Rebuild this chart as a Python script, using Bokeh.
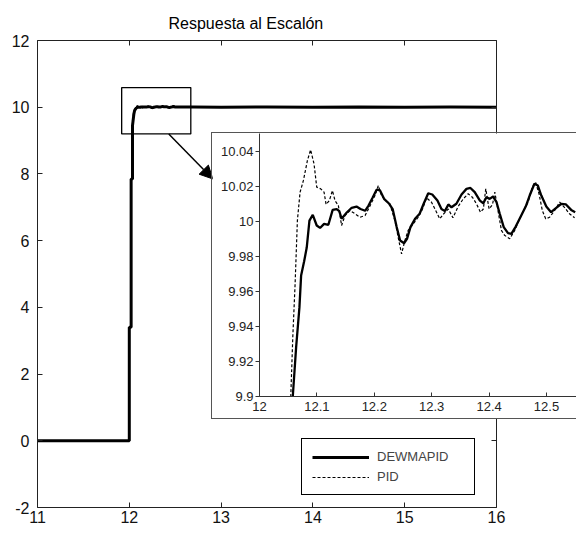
from bokeh.plotting import figure
from bokeh.models import (Range1d, LinearAxis, FixedTicker, Legend, LegendItem,
                          BoxAnnotation, Arrow, NormalHead)
from bokeh.layouts import column
from bokeh.embed import file_html
from bokeh.resources import INLINE

# ---------------- data ----------------
TITLE = "Respuesta al Escalón"
SERIES = ["DEWMAPID", "PID"]

# initial rise (main view)
dew_rise_t = [11.0, 12.0, 12.0, 12.02, 12.02, 12.035, 12.035, 12.05]
dew_rise_v = [0.0, 0.0, 3.4, 3.4, 7.85, 7.85, 9.45, 9.8]
pid_rise_t = [11.0, 12.0, 12.0, 12.02, 12.02, 12.035, 12.035, 12.048]
pid_rise_v = [0.0, 0.0, 3.4, 3.4, 7.85, 7.85, 9.6, 9.85]

# detail (zoomed view)
dew_t = [12.058, 12.0638, 12.0696, 12.0725, 12.0777, 12.0823, 12.087, 12.0928, 12.0997, 12.1055,
         12.1125, 12.12, 12.1275, 12.1345, 12.139, 12.143, 12.152, 12.1606, 12.169, 12.176,
         12.184, 12.19, 12.197, 12.204, 12.21, 12.217, 12.226, 12.232, 12.239, 12.245,
         12.252, 12.257, 12.263, 12.271, 12.279, 12.286, 12.294, 12.301, 12.31, 12.317,
         12.323, 12.329, 12.3345, 12.343, 12.352, 12.3606, 12.3675, 12.375, 12.384, 12.39,
         12.3954, 12.401, 12.407, 12.413, 12.4186, 12.4255, 12.433, 12.4388, 12.4464, 12.4545,
         12.4638, 12.4707, 12.479, 12.485, 12.491, 12.4997, 12.508, 12.517, 12.526, 12.534,
         12.543, 12.55]
dew_v = [9.9, 9.928, 9.951, 9.969, 9.977, 9.985, 10.0004, 10.0037, 9.9976, 9.9962,
         9.9985, 9.998, 10.0065, 10.007, 10.0058, 10.0015, 10.005, 10.0077, 10.0084, 10.007,
         10.006, 10.009, 10.0134, 10.018, 10.0176, 10.0128, 10.01, 10.007, 9.9967, 9.989,
         9.9875, 9.99, 9.9967, 10.0014, 10.0043, 10.01, 10.016, 10.0153, 10.0118, 10.007,
         10.0058, 10.0096, 10.008, 10.01, 10.0153, 10.0185, 10.019, 10.0166, 10.0118, 10.0103,
         10.0137, 10.0128, 10.0141, 10.0109, 10.0043, 9.9967, 9.9932, 9.9928, 9.997, 10.0023,
         10.0084, 10.0147, 10.0214, 10.0204, 10.0147, 10.0084, 10.0052, 10.0077, 10.01, 10.0096,
         10.0065, 10.0052]
pid_t = [12.0545, 12.058, 12.062, 12.066, 12.0707, 12.0765, 12.0835, 12.089, 12.095, 12.0997,
         12.1067, 12.1125, 12.116, 12.1217, 12.127, 12.1316, 12.1374, 12.143, 12.149, 12.1577,
         12.1664, 12.175, 12.184, 12.192, 12.2012, 12.207, 12.2127, 12.22, 12.227, 12.236,
         12.2415, 12.2475, 12.2533, 12.259, 12.2678, 12.2765, 12.284, 12.291, 12.2997, 12.307,
         12.314, 12.321, 12.329, 12.337, 12.346, 12.355, 12.3635, 12.371, 12.378, 12.385,
         12.39, 12.3942, 12.4, 12.406, 12.41, 12.4157, 12.4215, 12.427, 12.436, 12.4446,
         12.452, 12.46, 12.468, 12.4754, 12.481, 12.487, 12.4928, 12.4986, 12.5055, 12.514,
         12.523, 12.532, 12.54, 12.549]
pid_v = [9.9, 9.934, 9.964, 10.0004, 10.0166, 10.0233, 10.0347, 10.0408, 10.0328, 10.0195,
         10.0185, 10.0166, 10.0096, 10.0118, 10.0175, 10.0118, 10.009, 9.9976, 10.0033, 10.0061,
         10.0043, 10.0023, 10.0033, 10.0084, 10.0147, 10.0204, 10.0147, 10.0118, 10.01, 10.0004,
         9.991, 9.9814, 9.989, 9.9948, 9.9985, 10.0023, 10.007, 10.0134, 10.0109, 10.0061,
         10.0014, 10.0043, 10.007, 10.002, 10.0084, 10.0128, 10.0157, 10.0137, 10.01, 10.0052,
         10.007, 10.0185, 10.007, 10.0096, 10.0166, 10.0058, 9.9948, 9.992, 9.99, 9.9948,
         10.0004, 10.0061, 10.0109, 10.0195, 10.0223, 10.0157, 10.0061, 10.0014, 10.0023, 10.0061,
         10.0109, 10.0077, 10.0043, 10.002]

# steady tail (main view)
tail_t = [12.7, 13.0, 13.5, 14.0, 14.5, 15.0, 15.5, 16.0]
dew_tail_v = [10.004, 10.002, 10.003, 10.002, 10.003, 10.002, 10.003, 10.002]
pid_tail_v = [10.003, 10.002, 10.002, 10.002, 10.002, 10.002, 10.002, 10.002]

main_xticks = [11, 12, 13, 14, 15, 16]
main_xlabels = ["11", "12", "13", "14", "15", "16"]
main_yticks = [-2, 0, 2, 4, 6, 8, 10, 12]
main_ylabels = ["-2", "0", "2", "4", "6", "8", "10", "12"]
inset_xticks = [12.0, 12.1, 12.2, 12.3, 12.4, 12.5]
inset_xlabels = ["12", "12.1", "12.2", "12.3", "12.4", "12.5"]
inset_yticks = [9.9, 9.92, 9.94, 9.96, 9.98, 10.0, 10.02, 10.04]
inset_ylabels = ["9.9", "9.92", "9.94", "9.96", "9.98", "10", "10.02", "10.04"]

# zoom window and arrow (data coords of the main view)
ZOOM_BOX = dict(left=11.917, right=12.67, bottom=9.2, top=10.59)
ARROW = dict(x_start=12.43, y_start=9.2, x_end=12.91, y_end=7.85)

FONT = "Liberation Sans"
AX = "#222222"

# ---------------- main figure ----------------
p = figure(width=576, height=533, output_backend="svg", toolbar_location=None,
           x_range=Range1d(11, 16), y_range=Range1d(-2, 12),
           min_border_left=37, min_border_right=80, min_border_top=40, min_border_bottom=26,
           x_axis_location=None, y_axis_location=None, frame_align=False,
           title=TITLE)
p.title.align = "left"
p.title.offset = 131
p.title.standoff = 17
p.title.text_font = FONT
p.title.text_font_size = "16px"
p.title.text_font_style = "normal"
p.title.text_color = "black"
p.grid.visible = False
p.outline_line_color = None


def style_axis(ax, ticks, labels, show_labels, standoff):
    ax.ticker = FixedTicker(ticks=ticks)
    ax.major_label_overrides = dict(zip(ticks, labels))
    ax.major_tick_in = 5
    ax.major_tick_out = 0
    ax.minor_tick_line_color = None
    ax.axis_line_color = AX
    ax.major_tick_line_color = AX
    ax.major_label_text_font = FONT
    ax.major_label_text_font_size = "16px" if show_labels else "1px"
    ax.major_label_text_color = "#111111" if show_labels else None
    ax.major_label_standoff = standoff


xb = LinearAxis(); style_axis(xb, main_xticks, main_xlabels, True, 3); p.add_layout(xb, "below")
yl = LinearAxis(); style_axis(yl, main_yticks, main_ylabels, True, 8); p.add_layout(yl, "left")
xt = LinearAxis(); style_axis(xt, main_xticks, main_xlabels, False, 0); p.add_layout(xt, "above")
yr = LinearAxis(); style_axis(yr, main_yticks, main_ylabels, False, 0); p.add_layout(yr, "right")

pid_main = p.line(pid_rise_t + pid_t + tail_t, pid_rise_v + pid_v + pid_tail_v,
                  line_color="black", line_width=1.2, line_dash="3 2")
dew_main = p.line(dew_rise_t + dew_t + tail_t, dew_rise_v + dew_v + dew_tail_v,
                  line_color="black", line_width=3)

p.add_layout(BoxAnnotation(**ZOOM_BOX, fill_alpha=0, line_color="black", line_alpha=1,
                           line_width=1.3))
p.add_layout(Arrow(end=NormalHead(size=13, fill_color="black", line_color="black"),
                   line_color="black", line_width=1.5, **ARROW))

legend = Legend(items=[LegendItem(label=SERIES[0], renderers=[dew_main]),
                       LegendItem(label=SERIES[1], renderers=[pid_main])],
                location=(264, 12), padding=10, margin=0, spacing=5,
                label_height=14, glyph_height=14, glyph_width=57, label_standoff=8,
                label_width=87, label_text_font=FONT, label_text_font_size="13px",
                border_line_color="black", border_line_alpha=1, border_line_width=1,
                background_fill_alpha=1)
p.add_layout(legend)

# ---------------- inset figure ----------------
q = figure(width=364, height=285, output_backend="svg", toolbar_location=None,
           x_range=Range1d(12.0, 12.5523), y_range=Range1d(9.9, 10.0501),
           min_border_left=47, min_border_right=0, min_border_top=0, min_border_bottom=22,
           x_axis_location=None, y_axis_location=None, frame_align=False,
           styles={"margin-top": "-400px", "margin-left": "212px",
                   "box-shadow": "0 0 0 1px #555555"})
q.grid.visible = False
q.outline_line_color = None


def style_inset_axis(ax, ticks, labels, tin, tout, standoff):
    ax.ticker = FixedTicker(ticks=ticks)
    ax.major_label_overrides = dict(zip(ticks, labels))
    ax.major_tick_in = tin
    ax.major_tick_out = tout
    ax.minor_tick_line_color = None
    ax.axis_line_color = "#333333"
    ax.major_tick_line_color = "#333333"
    ax.major_label_text_font = FONT
    ax.major_label_text_font_size = "13px"
    ax.major_label_text_color = "#222222"
    ax.major_label_standoff = standoff


qa = LinearAxis(); style_inset_axis(qa, inset_xticks, inset_xlabels, 4, 0, 5); q.add_layout(qa, "below")
qb = LinearAxis(); style_inset_axis(qb, inset_yticks, inset_ylabels, 0, 4, 2); q.add_layout(qb, "left")

q.line(pid_rise_t + pid_t, pid_rise_v + pid_v, line_color="black", line_width=1.2, line_dash="3 2")
q.line(dew_rise_t + dew_t, dew_rise_v + dew_v, line_color="black", line_width=2.3)

layout = column(p, q)
open("out.html", "w").write(file_html(layout, INLINE))
